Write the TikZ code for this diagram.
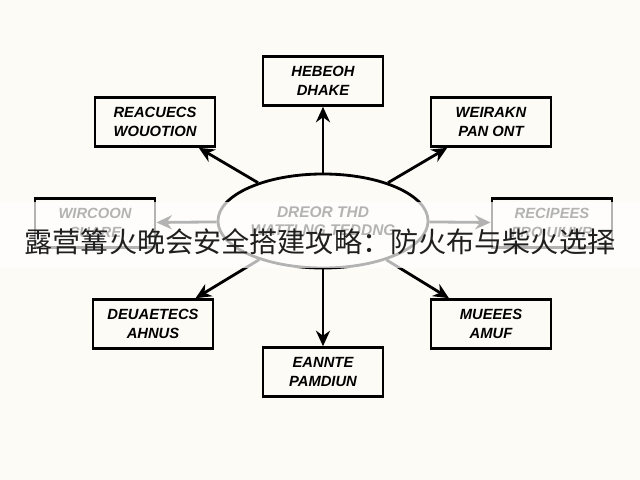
\documentclass[tikz,border=0pt]{standalone}
\usepackage{fontspec}
\setsansfont{Liberation Sans}
\newfontfamily\cjkfont{Noto Sans CJK SC}
\usetikzlibrary{shapes.geometric, arrows.meta}
\definecolor{paper}{RGB}{252,251,245}

\begin{document}
\begin{tikzpicture}[x=0.025cm, y=-0.025cm,
    topic/.style={draw, line width=2pt, minimum width=3cm, minimum height=1.22cm,
      inner sep=2pt, align=center, font=\sffamily\bfseries\itshape\fontsize{10.5}{13.5}\selectfont},
    hub/.style={ellipse, draw, line width=2pt, minimum width=5.25cm, minimum height=2.35cm,
      inner sep=0pt, align=center, font=\sffamily\bfseries\itshape\fontsize{11}{13}\selectfont},
    spoke/.style={-{Stealth[length=11pt,width=10pt]}, line width=2pt}]

    % paper and frame
    \fill[paper] (0,0) rectangle (640,480);
    \useasboundingbox (0,0) rectangle (640,480);

    % centre
    \node[hub] (hub) at (323,221) {DREOR THD\\WATTLNG TEDDNG};

    % topics round the centre
    \node[topic] (top)   at (323,81)  {HEBEOH\\DHAKE};
    \node[topic] (upl)   at (155,122) {REACUECS\\WOUOTION};
    \node[topic] (upr)   at (491,122) {WEIRAKN\\PAN ONT};
    \node[topic] (left)  at (95,223)  {WIRCOON\\CUARE};
    \node[topic] (right) at (552,223) {RECIPEES\\FRO UIUVR};
    \node[topic] (lowl)  at (153,324) {DEUAETECS\\AHNUS};
    \node[topic] (lowr)  at (491,324) {MUEEES\\AMUF};
    \node[topic] (bot)   at (323,372) {EANNTE\\PAMDIUN};

    % spokes
    \foreach \t in {top, upl, upr, left, right, lowl, lowr, bot}
      \draw[spoke] (hub) -- (\t);

    % title band
    \fill[white, opacity=0.7] (0,202) rectangle (640,268);
    \node[font=\cjkfont\fontsize{20}{24}\selectfont, text=black!88] (title) at (320,242)
      {露营篝火晚会安全搭建攻略：防火布与柴火选择};
\end{tikzpicture}
\end{document}
